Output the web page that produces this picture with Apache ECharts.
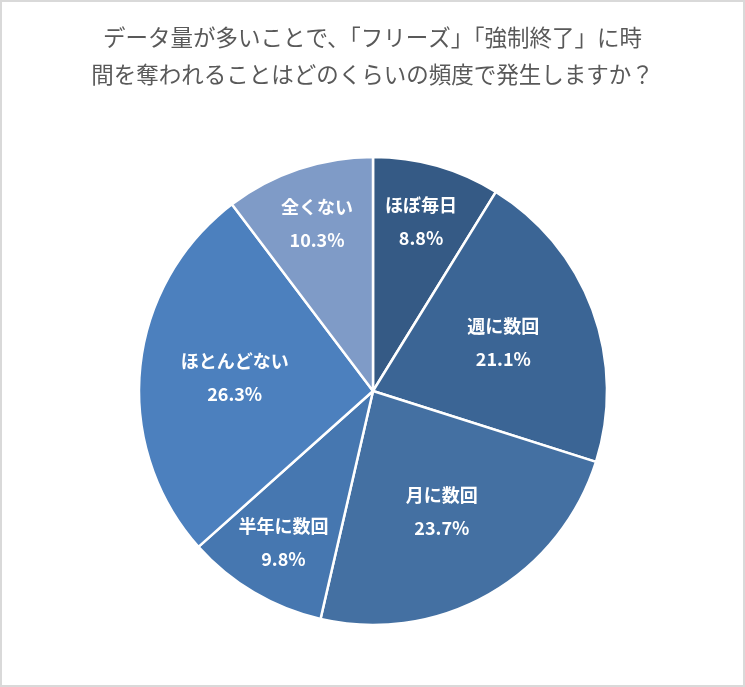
<!DOCTYPE html>
<html>
<head>
<meta charset="utf-8">
<script src="https://cdn.jsdelivr.net/npm/echarts@6/dist/echarts.min.js"></script>
<style>
html,body{margin:0;padding:0;background:#fff;}
#chart{width:745px;height:687px;box-sizing:border-box;border:2px solid #d9d9d9;}
</style>
</head>
<body>
<div id="chart"></div>
<script>
const titleLines = ['データ量が多いことで、「フリーズ」「強制終了」に時', '間を奪われることはどのくらいの頻度で発生しますか？'];
const categories = ['ほぼ毎日', '週に数回', '月に数回', '半年に数回', 'ほとんどない', '全くない'];
const values = [8.8, 21.1, 23.7, 9.8, 26.3, 10.3];
const colors = ['#355a85', '#3b6595', '#4470a2', '#4677b0', '#4c80be', '#7f9bc7'];
// which slices take their label from the outer overlay ring
const outerLabel = [true, false, false, true, false, true];

const chart = echarts.init(document.getElementById('chart'));
const R = 234;
const center = [371, 389];
const labelStyle = {
  show: true,
  position: 'inside',
  color: '#ffffff',
  fontSize: 18,
  fontWeight: 'bold',
  fontFamily: '"Noto Sans CJK JP", sans-serif',
  lineHeight: 33,
  formatter: p => p.name + '\n' + p.value.toFixed(1) + '%'
};
function overlay(r0, useOuter) {
  return {
    type: 'pie',
    silent: true,
    center: center,
    radius: [r0, R],
    startAngle: 90,
    clockwise: true,
    animation: false,
    itemStyle: { color: 'rgba(0,0,0,0)', borderWidth: 0 },
    labelLine: { show: false },
    label: labelStyle,
    data: categories.map((c, i) => ({
      name: c, value: values[i],
      label: { show: outerLabel[i] === useOuter }
    }))
  };
}
chart.setOption({
  backgroundColor: '#ffffff',
  title: {
    text: titleLines.join('\n'),
    left: 'center',
    top: 12,
    textStyle: {
      color: '#595959',
      fontSize: 22.5,
      fontWeight: 'normal',
      lineHeight: 37,
      fontFamily: '"Noto Sans CJK JP", sans-serif'
    }
  },
  series: [
    {
      type: 'pie',
      center: center,
      radius: [0, R],
      startAngle: 90,
      clockwise: true,
      animation: false,
      label: { show: false },
      labelLine: { show: false },
      itemStyle: { borderColor: '#ffffff', borderWidth: 2.5 },
      data: categories.map((c, i) => ({ name: c, value: values[i], itemStyle: { color: colors[i] } }))
    },
    overlay(112, true),
    overlay(38, false)
  ]
});
</script>
</body>
</html>
